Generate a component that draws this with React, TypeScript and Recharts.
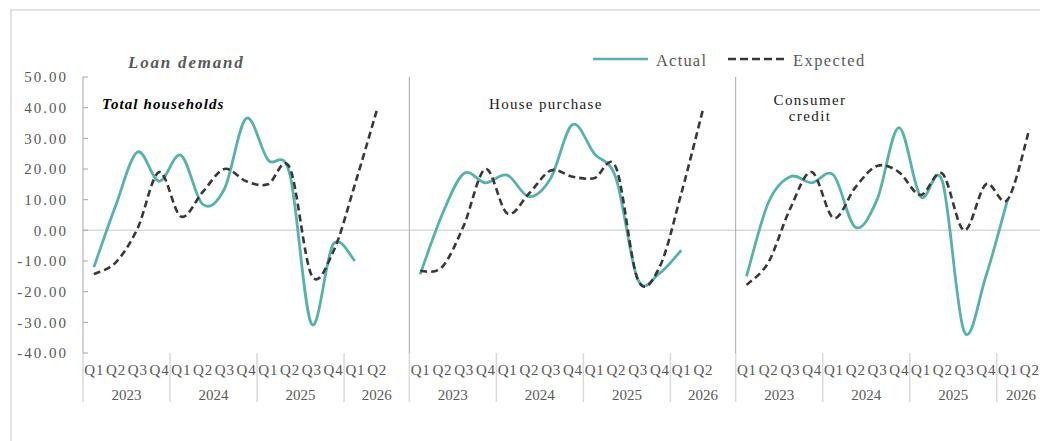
import React from 'react';
import { LineChart, Line, XAxis, YAxis, ReferenceLine, Legend } from 'recharts';

// ---------- data ----------
const quarters = ['Q1', 'Q2', 'Q3', 'Q4', 'Q1', 'Q2', 'Q3', 'Q4', 'Q1', 'Q2', 'Q3', 'Q4', 'Q1', 'Q2'];
const years = ['2023', '2024', '2025', '2026'];
const yearStarts = [0, 4, 8, 12];
const yearSizes = [4, 4, 4, 3];
const yTicks = [-40, -30, -20, -10, 0, 10, 20, 30, 40, 50];

const actualTotal = [-12, 8, 25.5, 16, 24.5, 8.5, 13.5, 36.5, 23, 18.5, -30.5, -4.5, -10, null];
const expectedTotal = [-14.3, -10.5, 0.5, 19, 4.5, 12.5, 20, 16, 15, 20.5, -14.5, -7, 15, 39];

const actualHouse = [-14.3, 5, 18.5, 15.5, 18, 11, 17, 34.5, 25, 17, -16, -14, -6.5, null];
const expectedHouse = [-13.3, -12, 1.5, 20, 5.5, 12, 19.5, 17.5, 17, 20.5, -16, -12, 12, 39.5];

const actualConsumer = [-15, 9, 17.5, 15.5, 18, 1, 10, 33.5, 11, 16, -33, -15, 10, null];
const expectedConsumer = [-17.8, -10.5, 7, 19, 4, 14, 21, 19, 11.5, 18.5, 0, 15, 10, 33];

const panelActual = [actualTotal, actualHouse, actualConsumer];
const panelExpected = [expectedTotal, expectedHouse, expectedConsumer];

// ---------- layout ----------
const CHART_W = 1062;
const CHART_H = 441;
const VIEW_W = 1040;
const PLOT_LEFT = 83;
const PLOT_TOP = 77;
const PLOT_BOTTOM = 353;
const SLOTS = 15;
const BAND = (CHART_W - PLOT_LEFT) / (SLOTS * 3);
const FONT = '"Liberation Serif", "Times New Roman", serif';
const TEAL = '#55b3aa';
const DARK = '#383838';
const LABEL = '#595959';

type Row = { key: string; panel: number; k: number; actual: number | null; expected: number | null };
const rows: Row[] = [];
for (let p = 0; p < 3; p++) {
  for (let k = 0; k < SLOTS; k++) {
    rows.push({
      key: `${p}-${k}`,
      panel: p,
      k,
      actual: k < 14 ? panelActual[p][k] : null,
      expected: k < 14 ? panelExpected[p][k] : null,
    });
  }
}

// Excel-like smoothed line (Catmull-Rom through the points)
const excelSmooth = (context: any) => {
  let pts: number[][] = [];
  return {
    areaStart() {},
    areaEnd() {},
    lineStart() {
      pts = [];
    },
    lineEnd() {
      const n = pts.length;
      if (!n) return;
      context.moveTo(pts[0][0], pts[0][1]);
      if (n === 1) {
        context.lineTo(pts[0][0], pts[0][1]);
        return;
      }
      for (let i = 0; i < n - 1; i++) {
        const p0 = pts[Math.max(0, i - 1)];
        const p1 = pts[i];
        const p2 = pts[i + 1];
        const p3 = pts[Math.min(n - 1, i + 2)];
        context.bezierCurveTo(
          p1[0] + (p2[0] - p0[0]) / 6,
          p1[1] + (p2[1] - p0[1]) / 6,
          p2[0] - (p3[0] - p1[0]) / 6,
          p2[1] - (p3[1] - p1[1]) / 6,
          p2[0],
          p2[1]
        );
      }
    },
    point(x: number, y: number) {
      pts.push([+x, +y]);
    },
  };
};

const XTick = (props: any) => {
  const { x, payload } = props;
  const row = rows.find((r) => r.key === payload.value);
  if (!row) return null;
  const els: any[] = [];
  if (row.k < 14) {
    els.push(
      <text key="q" x={x + 0.4} y={375} textAnchor="middle" fontFamily={FONT} fontSize={15} letterSpacing={0.8} fill={LABEL}>
        {quarters[row.k]}
      </text>
    );
  }
  const gi = yearStarts.indexOf(row.k);
  if (gi >= 0) {
    const left = x - BAND / 2;
    const center = Math.min(left + (yearSizes[gi] * BAND) / 2, VIEW_W - 19);
    els.push(<line key="s" x1={left} x2={left} y1={PLOT_BOTTOM} y2={402} stroke="#d9d9d9" strokeWidth={1.5} />);
    els.push(
      <text key="y" x={center} y={400} textAnchor="middle" fontFamily={FONT} fontSize={15} fill={LABEL}>
        {years[gi]}
      </text>
    );
  }
  return <g>{els}</g>;
};

const YTick = (props: any) => {
  const { y, payload } = props;
  return (
    <g>
      <line x1={PLOT_LEFT} x2={PLOT_LEFT + 5} y1={y} y2={y} stroke="#a6a6a6" strokeWidth={1} />
      <text x={68} y={y} dy="0.36em" textAnchor="end" fontFamily={FONT} fontSize={15} letterSpacing={2} fill={LABEL}>
        {Number(payload.value).toFixed(2)}
      </text>
    </g>
  );
};

const LegendContent = () => (
  <svg width={300} height={26} style={{ display: 'block' }}>
    <line x1={3} x2={58} y1={11} y2={11} stroke={TEAL} strokeWidth={2.5} />
    <text x={66} y={17.5} fontFamily={FONT} fontSize={16.5} letterSpacing={1.2} fill={LABEL}>
      Actual
    </text>
    <line x1={138} x2={198} y1={11} y2={11} stroke={DARK} strokeWidth={2.5} strokeDasharray="8 4" />
    <text x={203} y={17.5} fontFamily={FONT} fontSize={16.5} letterSpacing={1.4} fill={LABEL}>
      Expected
    </text>
  </svg>
);

export default function App() {
  return (
    <div
      style={{
        position: 'absolute',
        left: 0,
        top: 0,
        width: VIEW_W,
        height: 441,
        overflow: 'hidden',
        background: '#ffffff',
      }}
    >
      <LineChart
        width={CHART_W}
        height={CHART_H}
        data={rows}
        margin={{ top: PLOT_TOP, right: 0, bottom: CHART_H - PLOT_BOTTOM - 50, left: 0 }}
      >
        <XAxis
          dataKey="key"
          scale="band"
          interval={0}
          tickLine={false}
          axisLine={false}
          height={50}
          tick={<XTick />}
        />
        <YAxis
          type="number"
          domain={[-40, 50]}
          ticks={yTicks}
          interval={0}
          width={PLOT_LEFT}
          tickLine={false}
          axisLine={{ stroke: '#a6a6a6', strokeWidth: 1 }}
          tick={<YTick />}
        />
        <ReferenceLine y={0} stroke="#d9d9d9" strokeWidth={1.5} />
        <ReferenceLine x="1-0" position="start" stroke="#a6a6a6" strokeWidth={1} />
        <ReferenceLine x="2-0" position="start" stroke="#a6a6a6" strokeWidth={1} />
        <Legend
          layout="horizontal"
          align="center"
          verticalAlign="middle"
          content={<LegendContent />}
          wrapperStyle={{ position: 'absolute', left: 590, top: 48, width: 300, height: 26 }}
        />
        <Line
          dataKey="actual"
          name="Actual"
          type={excelSmooth as any}
          stroke={TEAL}
          strokeWidth={2.8}
          dot={false}
          activeDot={false}
          isAnimationActive={false}
        />
        <Line
          dataKey="expected"
          name="Expected"
          type={excelSmooth as any}
          stroke={DARK}
          strokeWidth={2.6}
          strokeDasharray="7 4"
          dot={false}
          activeDot={false}
          isAnimationActive={false}
        />
      </LineChart>
      <svg
        width={VIEW_W}
        height={441}
        style={{ position: 'absolute', left: 0, top: 0, pointerEvents: 'none' }}
      >
        <path d="M11,441 L11,10 L1040,10" fill="none" stroke="#d9d9d9" strokeWidth={1.5} />
        <text x={128} y={68} fontFamily={FONT} fontSize={17} fontStyle="italic" fontWeight="bold" letterSpacing={1.8} fill={LABEL}>
          Loan demand
        </text>
        <text x={102} y={109} fontFamily={FONT} fontSize={15} fontStyle="italic" fontWeight="bold" letterSpacing={1.1} fill="#000000">
          Total households
        </text>
        <text x={489} y={109} fontFamily={FONT} fontSize={15} letterSpacing={1.3} fill="#1a1a1a">
          House purchase
        </text>
        <text x={810} y={105} textAnchor="middle" fontFamily={FONT} fontSize={15} letterSpacing={1.4} fill="#1a1a1a">
          Consumer
        </text>
        <text x={810} y={120.5} textAnchor="middle" fontFamily={FONT} fontSize={15} letterSpacing={1.4} fill="#1a1a1a">
          credit
        </text>
      </svg>
    </div>
  );
}
